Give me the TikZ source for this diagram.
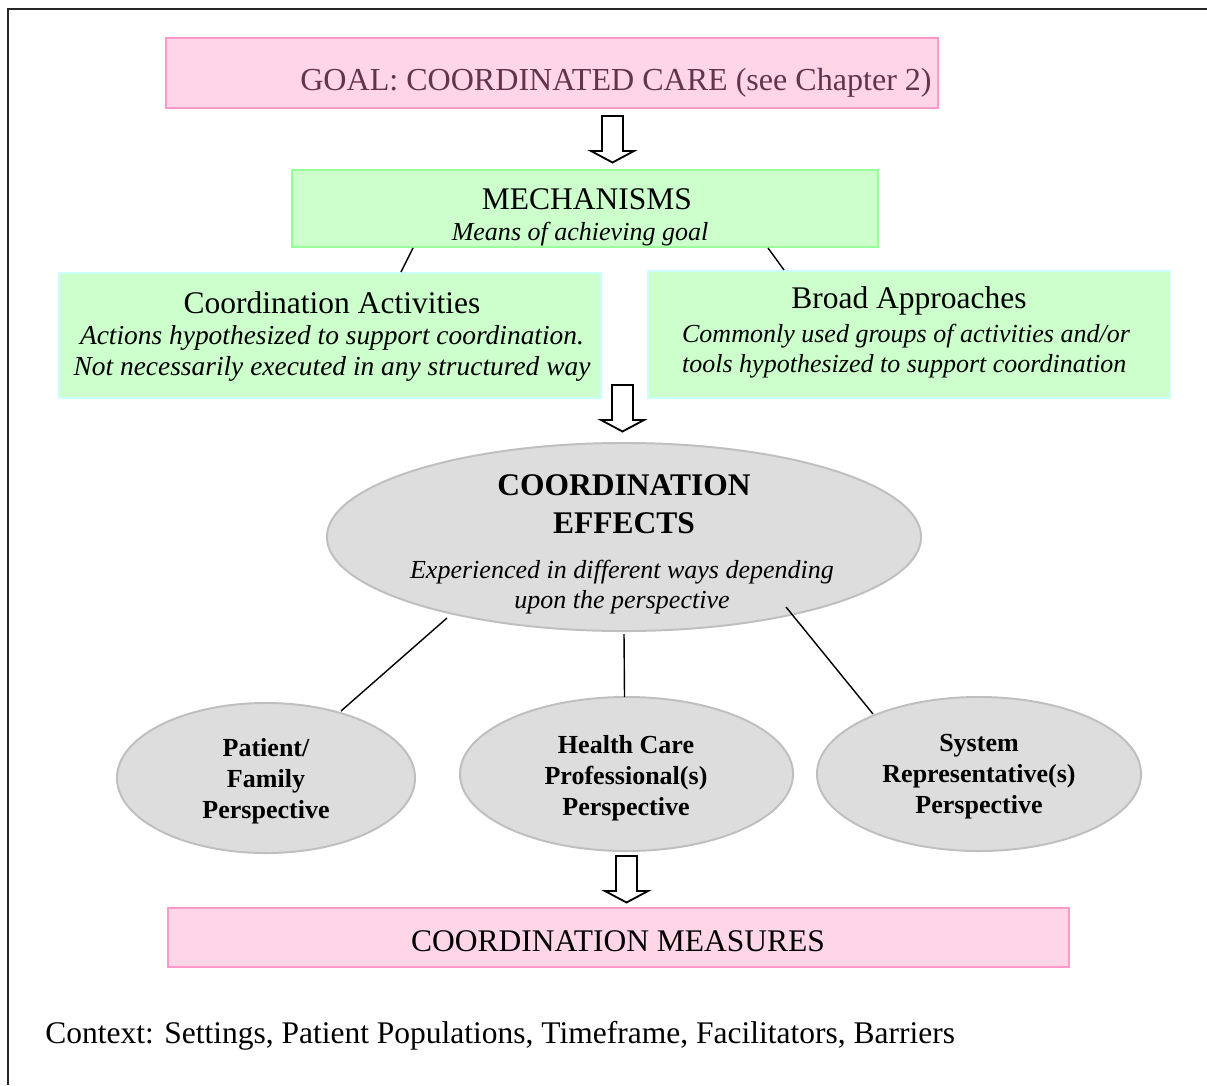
\documentclass[tikz,border=0pt]{standalone}
\usepackage{fontspec}
\setmainfont{Liberation Serif}
\usetikzlibrary{calc,shapes.geometric}

\definecolor{pinkfill}{RGB}{255,214,232}
\definecolor{pinkline}{RGB}{255,153,204}
\definecolor{greenfill}{RGB}{204,255,204}
\definecolor{greenline}{RGB}{153,255,153}
\definecolor{cyanline}{RGB}{204,255,255}
\definecolor{grayfill}{RGB}{221,221,221}
\definecolor{grayline}{RGB}{191,191,191}
\definecolor{goalink}{RGB}{100,52,74}

\begin{document}
\begin{tikzpicture}[
            x=0.025cm, y=-0.025cm,
            pageframe/.style={draw=black!85, line width=1.4pt},
            pinkbox/.style={draw=pinkline, fill=pinkfill, line width=1.4pt, inner sep=0pt},
            greenbox/.style={draw=greenline, fill=greenfill, line width=1.4pt, inner sep=0pt},
            paleboxes/.style={draw=cyanline, fill=greenfill, line width=1.4pt, inner sep=0pt},
            effect/.style={ellipse, draw=grayline, fill=grayfill, line width=1.4pt, inner sep=0pt},
            maintext/.style={font=\fontsize{22.4}{27}\selectfont, inner sep=0pt},
            subtext/.style={font=\fontsize{18.5}{21.5}\selectfont\itshape, align=center, inner sep=0pt},
            boldtext/.style={font=\fontsize{18.5}{22}\selectfont\bfseries, align=center, inner sep=0pt},
            link/.style={draw=black, line width=1pt},
            hollowarrow/.style={draw=black, line width=1.3pt, fill=white, line join=miter}
        ]
            \useasboundingbox (0,0) rectangle (1207,1085);
            % frame
            \draw[pageframe] (8,1085) -- (8,9) -- (1207,9);
            % boxes
            \node[pinkbox, minimum width=19.3cm, minimum height=1.75cm] (goal) at (552,73) {};
            \node[greenbox, minimum width=14.65cm, minimum height=1.925cm] (mech) at (585,208.5) {};
            \node[paleboxes, minimum width=13.55cm, minimum height=3.125cm] (act) at (330,335.5) {};
            \node[paleboxes, minimum width=13.05cm, minimum height=3.175cm] (broad) at (909,334.5) {};
            \node[pinkbox, minimum width=22.525cm, minimum height=1.475cm] (measures) at (618.5,937.5) {};
            % ellipses
            \node[effect, minimum width=14.85cm, minimum height=4.7cm] (effects) at (624,537) {};
            \node[effect, minimum width=7.45cm, minimum height=3.75cm] (patient) at (266,778) {};
            \node[effect, minimum width=8.325cm, minimum height=3.85cm] (hcp) at (626.5,774) {};
            \node[effect, minimum width=8.1cm, minimum height=3.85cm] (system) at (979,774) {};
            % texts
            \node[maintext, font=\fontsize{22.8}{27}\selectfont, anchor=base, text=goalink] (goaltxt) at (616,90) {GOAL: COORDINATED CARE (see Chapter 2)};
            \node[maintext, anchor=base] (mechtxt) at (587,209) {MECHANISMS};
            \node[subtext, anchor=base] (mechsub) at (580,240) {Means of achieving goal};
            \node[maintext, anchor=base] (acttxt) at (332,313) {Coordination Activities};
            \node[subtext, font=\fontsize{19.5}{22}\selectfont\itshape] (actsub) at (332,353) {Actions hypothesized to support coordination.\\Not necessarily executed in any structured way};
            \node[maintext, anchor=base] (broadtxt) at (909,308) {Broad Approaches};
            \node[subtext, align=left] (broadsub) at (906,351) {Commonly used groups of activities and/or\\tools hypothesized to support coordination};
            \node[maintext, font=\fontsize{22.4}{27}\selectfont\bfseries, align=center] (efftxt) at (624,504) {COORDINATION\\EFFECTS};
            \node[subtext] (effsub) at (622,587) {Experienced in different ways depending\\upon the perspective};
            \node[boldtext] (patienttxt) at (266,781) {Patient/\\Family\\Perspective};
            \node[boldtext] (hcptxt) at (626,778) {Health Care\\Professional(s)\\Perspective};
            \node[boldtext] (systemtxt) at (979,777) {System\\Representative(s)\\Perspective};
            \node[maintext, anchor=base] (measurestxt) at (618,951) {COORDINATION MEASURES};
            \node[maintext, anchor=base west] (context) at (45,1043) {Context: Settings, Patient Populations, Timeframe, Facilitators, Barriers};
            % lines
            \draw[link] ($(mech.south)+(-172,0)$) -- ($(act.north)+(71,0)$);
            \draw[link] ($(mech.south)+(183,0)$) -- ($(broad.north)+(-125,0)$);
            \draw[link] ($(effects.center)+(-177,81)$) -- ($(patient.center)+(75,-67)$);
            \draw[link] ($(effects.center)+(0,97)$) -- ($(hcp.center)+(-2,-77)$);
            \draw[link] ($(effects.center)+(162,70)$) -- ($(system.center)+(-106,-60)$);
            % block arrows
            \foreach \ax/\ay in {612.5/116, 622.5/385, 626.5/856}
                \draw[hollowarrow] (\ax-10.5,\ay) -- (\ax+10.5,\ay) -- (\ax+10.5,\ay+35) -- (\ax+21.5,\ay+35)
                    -- (\ax,\ay+46.5) -- (\ax-21.5,\ay+35) -- (\ax-10.5,\ay+35) -- cycle;
        \end{tikzpicture}
\end{document}
